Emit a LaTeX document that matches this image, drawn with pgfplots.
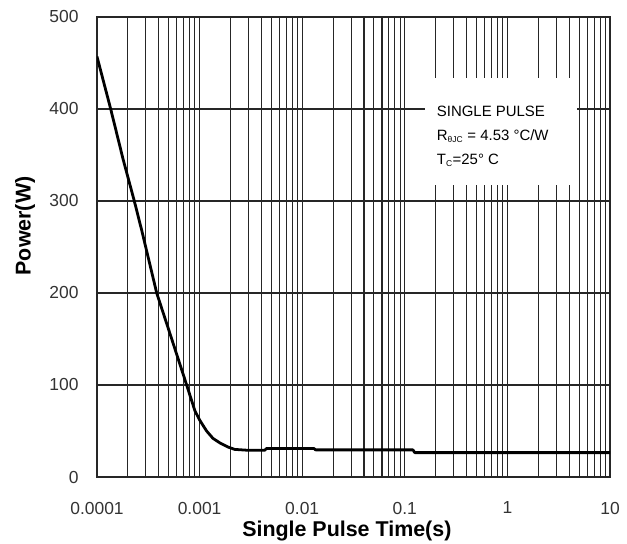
\documentclass[border=0pt]{standalone}
\usepackage{pgfplots}
\pgfplotsset{compat=1.18}
\usepackage{fontspec}
\setmainfont{Liberation Sans}
\begin{document}
\begin{tikzpicture}[x=1bp,y=1bp]
\begin{axis}[
  at={(0,0)}, anchor=south west,
  scale only axis,
  width=513bp, height=460bp,
  xmode=log,
  xmin=1e-4, xmax=10,
  ymin=0, ymax=500,
  ytick={0,100,200,300,400,500},
  xtick={1e-4,1e-3,1e-2,1e-1,1,10},
  xticklabels={0.0001,0.001,0.01,0.1,1,10},
  minor xtick={2e-4,3e-4,4e-4,5e-4,6e-4,7e-4,8e-4,9e-4,2e-3,3e-3,4e-3,5e-3,6e-3,7e-3,8e-3,9e-3,2e-2,3e-2,4e-2,5e-2,6e-2,7e-2,8e-2,9e-2,0.2,0.3,0.4,0.5,0.6,0.7,0.8,0.9,2,3,4,5,6,7,8,9},
  grid=both,
  major grid style={black!85, line width=1.1pt},
  minor grid style={black!85, line width=1.1pt},
  axis line style={black!85, line width=1.1pt},
  tick style={draw=none},
  /pgf/number format/assume math mode=true,
  tick label style={font=\fontsize{17.5}{19}\selectfont, text=black!80},
  xticklabel style={anchor=center, yshift=-31bp},
  yticklabel style={anchor=east, xshift=-15bp},
  xlabel={\textbf{Single Pulse Time(s)}},
  ylabel={\textbf{Power(W)}},
  xlabel style={font=\fontsize{21.5}{23}\selectfont, at={(axis description cs:0.487,-0.1174)}, anchor=center},
  ylabel style={font=\fontsize{21.5}{23}\selectfont, at={(axis description cs:-0.1404,0.5457)}, anchor=center},
  clip=true,
]
\addplot[black, line width=2.8pt, line join=round] coordinates {
(1e-4,457) (1.36e-4,400) (1.8e-4,345) (2.31e-4,300) (2.73e-4,268) (3.82e-4,200)
(5.35e-4,150) (7.48e-4,100) (9e-4,72) (1.0e-3,62) (1.17e-3,50)
(1.35e-3,42) (1.58e-3,37) (1.9e-3,32.5) (2.2e-3,30) (3e-3,29) (4.3e-3,29)
(4.5e-3,31) (0.013,31) (0.0135,29.5) (0.12,29.5) (0.125,26.5) (10,26.5)
};
\fill[white] (axis cs:0.157,433.7) rectangle (axis cs:4.77,317);
\node[anchor=north west, align=left, font=\fontsize{15}{24}\selectfont, inner sep=0pt]
  at (axis cs:0.2047,403) {SINGLE PULSE\\R\textsubscript{\fontsize{8.5}{8.5}\selectfont θJC} = 4.53 °C/W\\T\textsubscript{\fontsize{8.5}{8.5}\selectfont C}=25° C};
\end{axis}
\pgfresetboundingbox
\path[use as bounding box] (-97,-67) rectangle (530,477);
\end{tikzpicture}
\end{document}
